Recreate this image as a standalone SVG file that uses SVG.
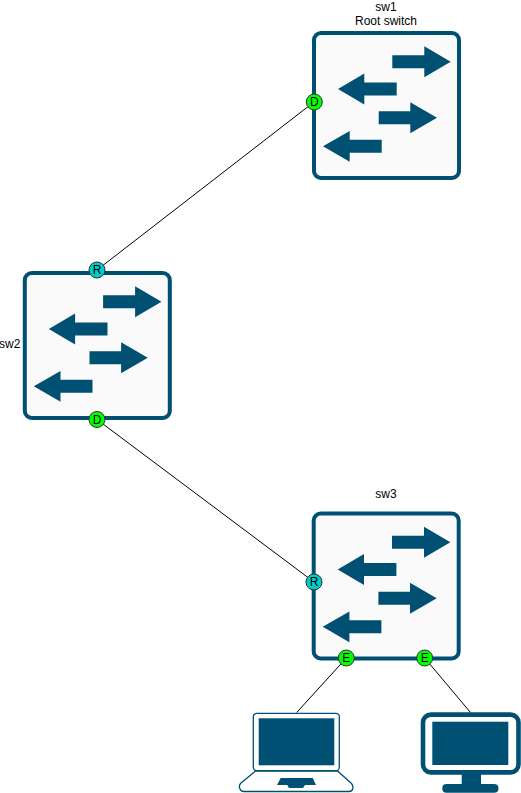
<svg xmlns="http://www.w3.org/2000/svg" width="521" height="793" viewBox="0 0 521 793">
<style>
text{font-family:"Liberation Sans",Arial,sans-serif;font-size:12px;fill:#000}
.m{text-anchor:middle}
.c{fill:#005073}
.box{fill:#fafafa;stroke:#005073;stroke-width:4}
.port{stroke:#333;stroke-width:1}
.d{fill:#00ff00}
.r{fill:#00ccc8}
.l{fill:none;stroke:#000;stroke-width:1}
.o{fill:#fff;stroke:#005073;stroke-width:1.3}
</style>
<defs>
<g id="switch">
<rect class="box" x="2" y="2" width="145" height="145" rx="7"/>
<path class="c" d="M80.3 24.2H112.3V15.3L138.7 30.7L112.3 46.3V37.2H80.3Z"/>
<path class="c" d="M26 58L52.3 42.6V51.5H84.7V64.5H52.3V73.6Z"/>
<path class="c" d="M66.7 80.2H98.3V71.3L125 86.7L98.3 102.2V93.2H66.7Z"/>
<path class="c" d="M11 115.3L37.7 99.9V108.8H69.7V121.8H37.7V130.8Z"/>
</g>
</defs>
<g id="connectors">
<path class="l" d="M314 102L97 270"/>
<path class="l" d="M97 419.5L314 582"/>
<path class="l" d="M346.3 658L296.7 712.5"/>
<path class="l" d="M424.7 658L470.5 712.5"/>
</g>
<g id="sw1">
<use href="#switch" x="312" y="31"/>
<text class="m" x="386" y="11">sw1</text>
<text class="m" x="386" y="25">Root switch</text>
<circle class="port d" cx="314.3" cy="102" r="8"/>
<text class="m" x="314.3" y="106.3">D</text>
</g>
<g id="sw2">
<use href="#switch" x="22.8" y="271"/>
<text x="-1" y="348">sw2</text>
<circle class="port r" cx="97" cy="270" r="8"/>
<text class="m" x="97" y="274.3">R</text>
<circle class="port d" cx="97" cy="419.5" r="8"/>
<text class="m" x="97" y="423.8">D</text>
</g>
<g id="sw3">
<use href="#switch" x="311.7" y="511.5"/>
<text class="m" x="386" y="498">sw3</text>
<circle class="port r" cx="314" cy="582" r="8"/>
<text class="m" x="314" y="586.3">R</text>
<circle class="port d" cx="346.3" cy="658" r="8"/>
<text class="m" x="346.3" y="662.3">E</text>
<circle class="port d" cx="424.7" cy="658" r="8"/>
<text class="m" x="424.7" y="662.3">E</text>
</g>
<g id="laptop">
<path class="o" d="M255.5 771L240.5 783.5Q238.5 786 240 789Q241 791.5 244 791.5H349Q352 791.5 352.7 789Q353.5 786 351.5 783.5L337.5 771Z"/>
<rect class="o" x="253.3" y="713.3" width="86" height="57.4" rx="3.5"/>
<rect class="c" x="258.7" y="718.3" width="75.6" height="47"/>
<path class="c" d="M280.7 778H312.7L316 785H305L303 788H289L287.3 785H277Z"/>
</g>
<g id="monitor">
<rect x="423" y="714.6" width="95.5" height="57.8" rx="8" fill="#fff" stroke="#005073" stroke-width="4.6"/>
<rect class="c" x="432.3" y="721.7" width="76" height="43.3"/>
<path class="c" d="M461.7 774H481V784H494Q498.5 784 498.5 788.4Q498.5 792.7 494 792.7H446.5Q442.3 792.7 442.3 788.4Q442.3 784 446.5 784H461.7Z"/>
</g>
</svg>
